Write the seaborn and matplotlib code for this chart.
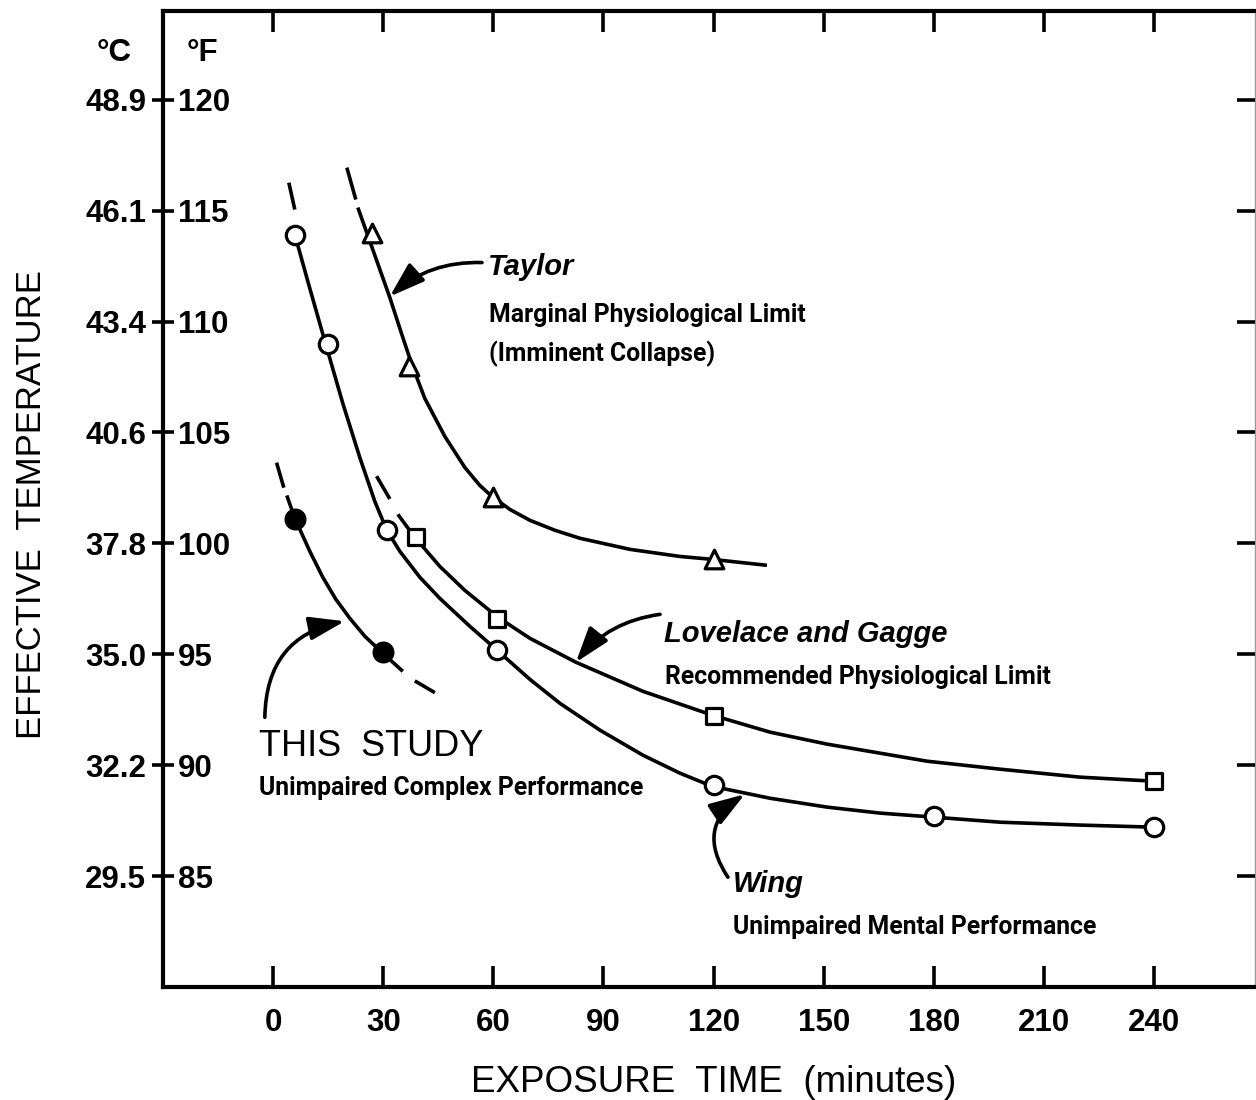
import matplotlib
matplotlib.use("Agg")
import matplotlib.pyplot as plt
import seaborn as sns

# ---------------- data ----------------
x_ticks = [0, 30, 60, 90, 120, 150, 180, 210, 240]
f_ticks = [120, 115, 110, 105, 100, 95, 90, 85]
f_labels = ["120", "115", "110", "105", "100", "95", "90", "85"]
c_labels = ["48.9", "46.1", "43.4", "40.6", "37.8", "35.0", "32.2", "29.5"]

# Taylor - marginal physiological limit (triangles)
taylor_t = [27, 37, 60, 120]
taylor_f = [114.0, 108.0, 102.1, 99.3]
taylor_curve_t = [23.08, 27.44, 31.80, 34.80, 37.80, 41.34, 46.79, 52.24, 56.33, 59.60, 64.51,
                  69.95, 76.77, 83.58, 97.20, 110.83, 119.55, 134.53]
taylor_curve_f = [115.14, 113.11, 111.08, 109.55, 108.06, 106.53, 104.82, 103.42, 102.61, 102.12,
                  101.53, 101.04, 100.59, 100.23, 99.73, 99.41, 99.28, 99.01]
taylor_dash_t = [20.08, 22.53]
taylor_dash_f = [116.94, 115.50]

# Lovelace and Gagge - recommended physiological limit (squares)
lovelace_t = [39, 61, 120, 240]
lovelace_f = [100.3, 96.6, 92.2, 89.3]
lovelace_curve_t = [33.98, 38.61, 45.42, 52.24, 61.23, 69.95, 82.49, 100.75, 119.55, 135.36,
                    150.89, 178.14, 198.03, 219.84, 239.73]
lovelace_curve_f = [101.31, 100.27, 98.96, 97.88, 96.67, 95.72, 94.64, 93.33, 92.26, 91.49,
                    90.95, 90.18, 89.82, 89.46, 89.28]
lovelace_dash_t = [28.18, 31.80]
lovelace_dash_f = [103.03, 102.0]

# Wing - unimpaired mental performance (open circles)
wing_t = [6, 15, 31, 61, 120, 180, 240]
wing_f = [113.9, 109.0, 100.6, 95.2, 89.1, 87.7, 87.2]
wing_curve_t = [5.91, 10.00, 14.36, 18.99, 23.62, 27.71, 30.98, 34.53, 39.98, 45.42, 53.60, 60.69,
                69.95, 78.13, 89.03, 100.75, 110.83, 119.55, 135.36, 150.89, 165.33, 179.78,
                198.03, 219.84, 238.91]
wing_curve_f = [113.92, 111.49, 108.96, 106.31, 103.87, 101.89, 100.59, 99.64, 98.47, 97.52,
                96.26, 95.23, 93.87, 92.79, 91.58, 90.45, 89.64, 89.05, 88.51, 88.11, 87.84,
                87.66, 87.43, 87.30, 87.21]
wing_dash_t = [4.28, 5.91]
wing_dash_f = [116.26, 115.05]

# This study - unimpaired complex performance (filled circles)
study_t = [6, 30]
study_f = [101.1, 95.1]
study_curve_t = [3.73, 5.91, 10.00, 13.54, 17.09, 20.90, 24.99, 29.62, 35.34]
study_curve_f = [102.16, 101.13, 99.64, 98.47, 97.48, 96.62, 95.81, 95.09, 94.23]
study_dash1_t = [0.93, 2.92]
study_dash1_f = [103.64, 102.51]
study_dash2_t = [38.61, 44.06]
study_dash2_f = [93.80, 93.27]

# ---------------- style ----------------
sns.set_style("white")
plt.rcParams["font.family"] = ["Liberation Sans", "DejaVu Sans"]
plt.rcParams["text.color"] = "black"
SUB = ["Roboto", "Liberation Sans"]
TICK_FS = 22.5
SUB_FS = 17.8

fig = plt.figure(figsize=(12.56, 11.0), dpi=100)
ax = fig.add_axes([163 / 1256, 1 - 987 / 1100, (1255 - 163) / 1256, (987 - 11) / 1100])
ax.set_xlim(-30, 267.5)
ax.set_ylim(80, 124)

LW = 2.6
K = "black"


def line(t, f):
    sns.lineplot(x=t, y=f, ax=ax, color=K, lw=LW, sort=False, estimator=None,
                 solid_capstyle="butt", solid_joinstyle="round", zorder=2)


line(taylor_curve_t, taylor_curve_f)
line(taylor_dash_t, taylor_dash_f)
line(lovelace_curve_t, lovelace_curve_f)
line(lovelace_dash_t, lovelace_dash_f)
line(wing_curve_t, wing_curve_f)
line(wing_dash_t, wing_dash_f)
line(study_curve_t, study_curve_f)
line(study_dash1_t, study_dash1_f)
line(study_dash2_t, study_dash2_f)

sns.scatterplot(x=taylor_t, y=taylor_f, ax=ax, marker="^", s=180, color="white",
                edgecolor=K, linewidth=2.3, zorder=3)
sns.scatterplot(x=lovelace_t, y=lovelace_f, ax=ax, marker="s", s=140, color="white",
                edgecolor=K, linewidth=2.3, zorder=3)
sns.scatterplot(x=wing_t, y=wing_f, ax=ax, marker="o", s=175, color="white",
                edgecolor=K, linewidth=2.3, zorder=3)
sns.scatterplot(x=study_t, y=study_f, ax=ax, marker="o", s=220, color=K,
                edgecolor=K, linewidth=1, zorder=3)

# ---------------- axes ----------------
for s in ["left", "bottom", "top"]:
    ax.spines[s].set_linewidth(3)
    ax.spines[s].set_color(K)
ax.spines["right"].set_linewidth(1)
ax.spines["right"].set_color("#999999")

ax.set_xticks(x_ticks, labels=[str(v) for v in x_ticks])
ax.tick_params(axis="x", direction="in", length=15, width=2.6, top=True, bottom=True,
               labelsize=TICK_FS, pad=15, colors=K)
ax.set_yticks(f_ticks, labels=c_labels)
ax.tick_params(axis="y", direction="inout", length=16, width=2.6, left=True, right=False,
               labelsize=TICK_FS, pad=4, colors=K)
for lbl in ax.get_xticklabels() + ax.get_yticklabels():
    lbl.set_fontweight("bold")

ax2 = ax.twinx()
ax2.set_ylim(ax.get_ylim())
ax2.set_yticks(f_ticks, labels=f_labels)
ax2.tick_params(axis="y", direction="in", length=13, width=2.6, left=False, right=True,
                labelleft=True, labelright=False, labelsize=TICK_FS, pad=-10.5, colors=K)
for lbl in ax2.get_yticklabels():
    lbl.set_horizontalalignment("left")
    lbl.set_fontweight("bold")
for s in ax2.spines.values():
    s.set_visible(False)

fig.text(114 / 1256, 1 - 53 / 1100, "°C", ha="center", va="center", fontsize=TICK_FS,
         fontweight="bold")
fig.text(202 / 1256, 1 - 53 / 1100, "°F", ha="center", va="center", fontsize=TICK_FS,
         fontweight="bold")

fig.text(32 / 1256, 1 - 505 / 1100, "EFFECTIVE  TEMPERATURE", rotation=90, ha="center",
         va="center", fontsize=25)
fig.text(714 / 1256, 1 - 1082 / 1100, "EXPOSURE  TIME  (minutes)", ha="center",
         va="center", fontsize=26.5)

# ---------------- annotations ----------------
ax.text(58.5, 112.45, "Taylor", fontsize=21, style="italic", fontweight="bold", va="center")
ax.text(58.8, 110.3, "Marginal Physiological Limit", fontsize=SUB_FS, fontweight="bold",
        va="center", family=SUB)
ax.text(58.8, 108.55, "(Imminent Collapse)", fontsize=SUB_FS, fontweight="bold",
        va="center", family=SUB)
ax.text(106.5, 95.9, "Lovelace and Gagge", fontsize=21, style="italic", fontweight="bold",
        va="center")
ax.text(106.7, 93.98, "Recommended Physiological Limit", fontsize=SUB_FS, fontweight="bold",
        va="center", family=SUB)
ax.text(-3.9, 90.83, "THIS  STUDY", fontsize=26, va="center")
ax.text(-3.9, 88.95, "Unimpaired Complex Performance", fontsize=SUB_FS, fontweight="bold",
        va="center", family=SUB)
ax.text(125.3, 84.65, "Wing", fontsize=21, style="italic", fontweight="bold", va="center")
ax.text(125.3, 82.72, "Unimpaired Mental Performance", fontsize=SUB_FS, fontweight="bold",
        va="center", family=SUB)

arrow = dict(arrowstyle="-|>,head_length=0.9,head_width=0.3", color=K, lw=2.6,
             shrinkA=0, shrinkB=0, mutation_scale=24)
ax.annotate("", xy=(31.8, 111.13), xytext=(56.9, 112.66),
            arrowprops=dict(arrow, connectionstyle="arc3,rad=0.2"))
ax.annotate("", xy=(82.5, 94.64), xytext=(105.4, 96.8),
            arrowprops=dict(arrow, connectionstyle="arc3,rad=0.2"))
ax.annotate("", xy=(19.5, 96.49), xytext=(-2.26, 92.16),
            arrowprops=dict(arrow, connectionstyle="arc3,rad=-0.4"))
ax.annotate("", xy=(128.5, 88.69), xytext=(123.9, 84.95),
            arrowprops=dict(arrow, connectionstyle="arc3,rad=-0.5"))

ax.set_xlabel("")
ax.set_ylabel("")

fig.savefig("out.png", dpi=100)
